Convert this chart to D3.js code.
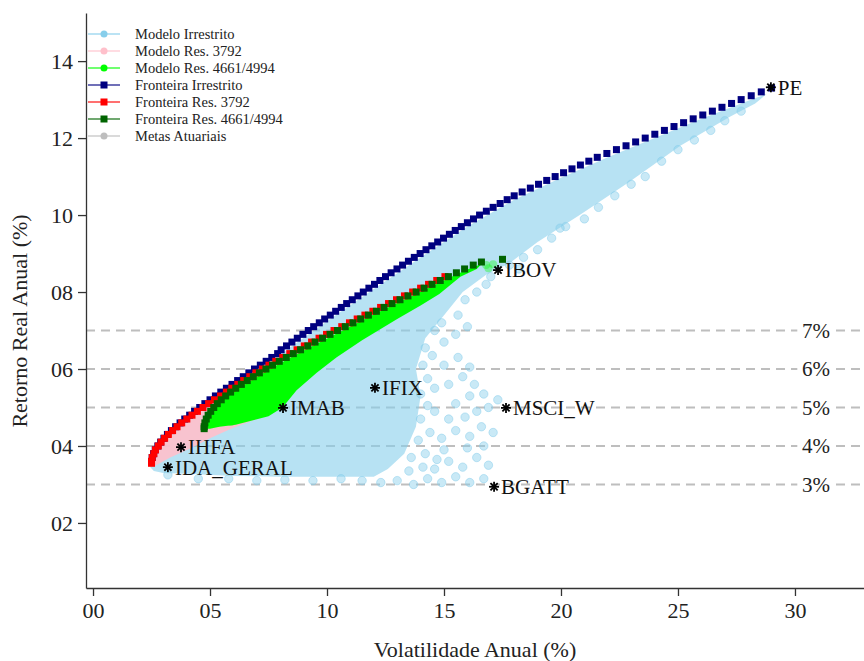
<!DOCTYPE html>
<html>
<head>
<meta charset="utf-8">
<script src="https://cdn.jsdelivr.net/npm/d3@7"></script>
<style>
    body { margin: 0; background: #fff; }
    svg { display: block; font-family: "Liberation Serif", "Times New Roman", serif; }
</style>
</head>
<body>
<svg id="chart" width="864" height="661"></svg>
<script>
// ---- data (vol %, return %) ----
let xTicks = [0, 5, 10, 15, 20, 25, 30];
let yTicks = [2, 4, 6, 8, 10, 12, 14];
let metas = [3, 4, 5, 6, 7];

let assets = [
    { name: 'IDA_GERAL', vol: 3.2, ret: 3.45 },
    { name: 'IHFA', vol: 3.76, ret: 3.97 },
    { name: 'IMAB', vol: 8.12, ret: 4.99 },
    { name: 'IFIX', vol: 12.05, ret: 5.51 },
    { name: 'MSCI_W', vol: 17.65, ret: 4.99 },
    { name: 'BGATT', vol: 17.14, ret: 2.94 },
    { name: 'IBOV', vol: 17.31, ret: 8.57 },
    { name: 'PE', vol: 28.97, ret: 13.32 }
];

let fronteiraIrrestrito = [
    [2.50,3.6],[2.53,3.7],[2.59,3.8],[2.66,3.9],[2.77,4.0],[2.89,4.1],[3.03,4.2],[3.18,4.3],[3.35,4.4],[3.53,4.5],
    [3.72,4.6],[3.92,4.7],[4.13,4.8],[4.34,4.9],[4.56,5.0],[4.78,5.1],[5.00,5.2],[5.23,5.3],[5.46,5.4],[5.70,5.5],
    [5.94,5.6],[6.18,5.7],[6.42,5.8],[6.66,5.9],[6.90,6.0],[7.15,6.1],[7.40,6.2],[7.64,6.3],[7.89,6.4],[8.04,6.5],
    [8.27,6.6],[8.50,6.7],[8.73,6.8],[8.97,6.9],[9.20,7.0],[9.43,7.1],[9.67,7.2],[9.90,7.3],[10.14,7.4],[10.37,7.5],
    [10.61,7.6],[10.84,7.7],[11.08,7.8],[11.32,7.9],[11.55,8.0],[11.79,8.1],[12.03,8.2],[12.26,8.3],[12.50,8.4],[12.74,8.5],
    [12.99,8.6],[13.23,8.7],[13.48,8.8],[13.73,8.9],[13.98,9.0],[14.23,9.1],[14.48,9.2],[14.73,9.3],[14.98,9.4],[15.23,9.5],
    [15.48,9.6],[15.74,9.7],[16.00,9.8],[16.26,9.9],[16.52,10.0],[16.81,10.1],[17.10,10.2],[17.40,10.3],[17.70,10.4],[18.00,10.5],
    [18.34,10.6],[18.69,10.7],[19.04,10.8],[19.39,10.9],[19.75,11.0],[20.11,11.1],[20.47,11.2],[20.83,11.3],[21.19,11.4],[21.55,11.5],
    [21.96,11.6],[22.37,11.7],[22.78,11.8],[23.19,11.9],[23.60,12.0],[24.01,12.1],[24.42,12.2],[24.83,12.3],[25.24,12.4],[25.65,12.5],
    [26.06,12.6],[26.47,12.7],[26.88,12.8],[27.29,12.9],[27.70,13.0],[28.13,13.1],[28.56,13.2],[29.00,13.3]
];

let fronteira3792 = [
    [2.50,3.55],[2.50,3.6],[2.53,3.7],[2.60,3.8],[2.67,3.9],[2.79,4.0],[2.91,4.1],[3.06,4.2],[3.22,4.3],[3.40,4.4],
    [3.59,4.5],[3.79,4.6],[4.01,4.7],[4.23,4.8],[4.46,4.9],[4.70,5.0],[4.94,5.1],[5.19,5.2],[5.45,5.3],[5.70,5.4],
    [5.93,5.5],[6.19,5.6],[6.44,5.7],[6.70,5.8],[6.96,5.9],[7.24,6.0],[7.52,6.1],[7.81,6.2],[8.11,6.3],[8.41,6.4],
    [8.72,6.5],[9.03,6.6],[9.34,6.7],[9.66,6.8],[9.98,6.9],[10.30,7.0],[10.63,7.1],[10.96,7.2],[11.29,7.3],[11.62,7.4],
    [11.96,7.5],[12.29,7.6],[12.63,7.7],[12.97,7.8],[13.31,7.9],[13.66,8.0],[14.00,8.1],[14.34,8.2],[14.69,8.3],[15.04,8.4]
];

let fronteira4661 = [
    [4.75,4.45],[4.75,4.5],[4.78,4.6],[4.84,4.7],[4.92,4.8],[5.03,4.9],[5.16,5.0],[5.31,5.1],[5.48,5.2],[5.67,5.3],
    [5.88,5.4],[6.10,5.5],[6.34,5.6],[6.59,5.7],[6.85,5.8],[7.11,5.9],[7.39,6.0],[7.67,6.1],[7.96,6.2],[8.26,6.3],
    [8.56,6.4],[8.87,6.5],[9.18,6.6],[9.49,6.7],[9.81,6.8],[10.13,6.9],[10.45,7.0],[10.78,7.1],[11.11,7.2],[11.44,7.3],
    [11.77,7.4],[12.11,7.5],[12.44,7.6],[12.78,7.7],[13.12,7.8],[13.46,7.9],[13.81,8.0],[14.15,8.1],[14.49,8.2],[14.84,8.3],
    [15.19,8.4],[15.53,8.5],[15.88,8.6],[16.25,8.7],[16.60,8.78],[17.50,8.85]
];

// dense part of the unrestricted cloud, traced as an outline
let modeloIrrestritoArea = [
    [2.45,3.45],[2.5,3.7],[2.7,4.0],[3.2,4.4],[4.0,4.8],[5.0,5.1],[6.5,5.73],[8.0,6.38],[10.0,7.24],[12.0,8.08],
    [14.0,8.9],[16.0,9.7],[18.0,10.4],[20.0,10.97],[22.0,11.5],[24.0,12.0],[26.0,12.5],[28.0,12.97],[28.8,13.15],
    [28.3,12.9],[27.2,12.55],[25.1,11.8],[22.9,10.85],[20.8,10.0],[19.0,9.3],[17.8,8.75],[16.8,8.45],[15.8,8.0],
    [15.0,7.4],[14.2,6.8],[13.8,6.0],[14.0,5.3],[13.8,4.5],[13.3,3.8],[12.6,3.4],[12.0,3.2],[10.5,3.2],[8.0,3.2],
    [6.0,3.22],[4.0,3.28],[3.0,3.3],[2.6,3.35]
];

// sparse single portfolios around the cloud edge
let modeloIrrestritoPontos = [
    [12.3,3.05],[13.0,3.1],[13.7,3.0],[14.3,3.15],[14.9,3.05],[15.5,3.2],[16.1,3.05],[16.7,3.15],
    [3.2,3.25],[4.5,3.15],[5.8,3.15],[7.0,3.1],[8.2,3.12],[9.4,3.1],[10.6,3.15],[11.5,3.1],
    [13.5,3.35],[14.1,3.45],[13.6,3.7],[14.2,3.8],[14.7,3.65],[13.9,4.15],[14.4,4.35],
    [14.0,4.7],[14.6,4.9],[14.3,5.05],[14.0,5.35],[14.6,5.5],[14.3,5.75],
    [14.1,6.1],[14.5,6.35],[14.2,6.55],[14.6,7.0],
    [14.6,3.4],[15.2,3.6],[15.8,3.45],[16.4,3.7],[16.9,3.5],[15.0,3.9],[16.0,3.95],[16.7,4.0],
    [14.9,4.2],[15.5,4.4],[16.1,4.25],[16.6,4.5],[17.1,4.35],[15.2,4.7],[15.9,4.75],
    [16.4,4.9],[16.9,5.0],[17.3,5.2],[15.5,5.1],[16.1,5.3],[16.7,5.35],
    [15.2,5.6],[15.8,5.8],[16.3,5.6],[15.0,6.1],[15.6,6.3],[16.1,6.05],
    [15.0,6.7],[15.5,6.9],[14.9,7.2],[15.6,7.4],[16.0,7.1],
    [15.9,7.8],[16.4,8.0],[16.8,8.2],
    [17.0,8.4],[17.8,8.7],[18.4,8.9],[19.0,9.1],[19.6,9.4],[20.2,9.7],[21.0,9.9],[21.6,10.2],[22.3,10.5],
    [23.0,10.8],[23.6,11.0],[24.3,11.4],[25.0,11.7],[25.7,11.95],[26.4,12.2],[27.0,12.45],[27.7,12.7],[18.2,8.6],[19.96,9.66]
];

let modelo3792Area = [
    [2.5,3.5],[2.55,3.75],[2.8,4.05],[3.3,4.4],[4.0,4.75],[4.8,5.05],[5.5,5.3],[7.0,5.9],
    [7.0,4.7],[5.9,4.45],[5.0,4.2],[4.2,3.95],[3.3,3.7],[2.7,3.5]
];

let modelo4661Area = [
    [4.75,4.45],[4.78,4.7],[4.95,4.9],[5.3,5.1],[6.1,5.45],[7.4,5.95],[8.9,6.45],[10.5,6.95],[12.1,7.45],
    [13.8,7.95],[15.5,8.45],[16.25,8.65],[16.6,8.72],
    [16.4,8.6],[15.7,8.4],[14.8,7.95],[14.0,7.65],[13.0,7.3],[11.5,6.75],[10.4,6.3],[9.56,5.9],[8.7,5.45],
    [8.1,5.0],[7.5,4.77],[6.1,4.55],[5.4,4.5],[5.0,4.45]
];

let modelo4661Pontos = [
    [5.3,4.6],[5.6,4.7],[5.9,4.62],[16.8,8.7],[17.1,8.72],[16.9,8.62]
];

let legendItems = [
    { label: 'Modelo Irrestrito', color: '#87ceeb', shape: 'circle' },
    { label: 'Modelo Res. 3792', color: '#ffc0cb', shape: 'circle' },
    { label: 'Modelo Res. 4661/4994', color: '#00ff00', shape: 'circle' },
    { label: 'Fronteira Irrestrito', color: '#000080', shape: 'square' },
    { label: 'Fronteira Res. 3792', color: '#ff0000', shape: 'square' },
    { label: 'Fronteira Res. 4661/4994', color: '#006400', shape: 'square' },
    { label: 'Metas Atuariais', color: '#bebebe', shape: 'circle' }
];

// ---- drawing ----
let svg = d3.select('#chart');

let x = d3.scaleLinear().domain([-0.3, 32.95]).range([86, 864]);
let y = d3.scaleLinear().domain([0.31, 15.25]).range([588, 13]);

let areaLine = d3.line()
    .x(d => x(d[0]))
    .y(d => y(d[1]))
    .curve(d3.curveLinearClosed);

function drawAxes() {
    let xAxis = svg.append('g')
        .attr('transform', 'translate(0,' + y.range()[0] + ')')
        .call(d3.axisBottom(x).tickValues(xTicks).tickFormat(d3.format('02d')).tickSize(8).tickSizeOuter(0).tickPadding(6));

    let yAxis = svg.append('g')
        .attr('transform', 'translate(' + x.range()[0] + ',0)')
        .call(d3.axisLeft(y).tickValues(yTicks).tickFormat(d3.format('02d')).tickSize(8).tickSizeOuter(0).tickPadding(5));

    [xAxis, yAxis].forEach(a => {
        a.selectAll('path, line').attr('stroke', '#333').attr('stroke-width', 1.3);
        a.selectAll('text')
            .attr('fill', '#222')
            .style('font-size', '22px')
            .style('font-family', '"Liberation Serif", serif');
    });

    svg.append('text')
        .attr('x', (x.range()[0] + x.range()[1]) / 2)
        .attr('y', 657)
        .attr('text-anchor', 'middle')
        .attr('fill', '#222')
        .style('font-size', '22px')
        .text('Volatilidade Anual (%)');

    svg.append('text')
        .attr('transform', 'translate(27,321) rotate(-90)')
        .attr('text-anchor', 'middle')
        .attr('fill', '#222')
        .style('font-size', '22px')
        .text('Retorno Real Anual (%)');
}

function drawMetas() {
    svg.append('g')
        .classed('metas', true)
        .selectAll('line')
        .data(metas)
        .join('line')
        .attr('x1', x.range()[0])
        .attr('x2', x.range()[1])
        .attr('y1', d => y(d))
        .attr('y2', d => y(d))
        .attr('stroke', '#bebebe')
        .attr('stroke-width', 2)
        .attr('stroke-dasharray', '9,6');
}

function drawMetasLabels() {
    let g = svg.append('g').classed('metas-labels', true);

    g.selectAll('rect')
        .data(metas)
        .join('rect')
        .attr('x', x(30.1))
        .attr('y', d => y(d) - 9)
        .attr('width', 38)
        .attr('height', 18)
        .attr('fill', '#fff');

    g.selectAll('text')
        .data(metas)
        .join('text')
        .attr('x', x(30.3))
        .attr('y', d => y(d))
        .attr('dy', '0.35em')
        .attr('fill', '#222')
        .style('font-size', '21px')
        .text(d => d + '%');
}

function drawClouds() {
    svg.append('path')
        .datum(modeloIrrestritoArea)
        .attr('d', areaLine)
        .attr('fill', '#87ceeb')
        .attr('fill-opacity', 0.6);

    svg.append('g')
        .selectAll('circle')
        .data(modeloIrrestritoPontos)
        .join('circle')
        .attr('cx', d => x(d[0]))
        .attr('cy', d => y(d[1]))
        .attr('r', 4.2)
        .attr('fill', '#87ceeb')
        .attr('fill-opacity', 0.45)
        .attr('stroke', '#87ceeb')
        .attr('stroke-opacity', 0.5);

    svg.append('path')
        .datum(modelo3792Area)
        .attr('d', areaLine)
        .attr('fill', '#ffc0cb')
        .attr('fill-opacity', 0.9);

    svg.append('path')
        .datum(modelo4661Area)
        .attr('d', areaLine)
        .attr('fill', '#00ff00');

    svg.append('g')
        .selectAll('circle')
        .data(modelo4661Pontos)
        .join('circle')
        .attr('cx', d => x(d[0]))
        .attr('cy', d => y(d[1]))
        .attr('r', 4)
        .attr('fill', '#00ff00')
        .attr('fill-opacity', 0.35);
}

function drawFrontier(points, color) {
    svg.append('g')
        .selectAll('rect')
        .data(points)
        .join('rect')
        .attr('x', d => x(d[0]) - 3.5)
        .attr('y', d => y(d[1]) - 3.5)
        .attr('width', 7)
        .attr('height', 7)
        .attr('fill', color);
}

function drawAssets() {
    let g = svg.append('g')
        .selectAll('g')
        .data(assets)
        .join('g')
        .attr('transform', d => 'translate(' + x(d.vol) + ',' + y(d.ret) + ')');

    let arms = [[-5, 0, 5, 0], [0, -5, 0, 5], [-3.6, -3.6, 3.6, 3.6], [-3.6, 3.6, 3.6, -3.6]];
    arms.forEach(a => {
        g.append('line')
            .attr('x1', a[0]).attr('y1', a[1])
            .attr('x2', a[2]).attr('y2', a[3])
            .attr('stroke', '#000')
            .attr('stroke-width', 1.8);
    });

    g.append('text')
        .attr('x', 7)
        .attr('dy', '0.35em')
        .attr('fill', '#111')
        .style('font-size', '21px')
        .text(d => d.name);
}

function drawLegend() {
    let rows = svg.append('g')
        .selectAll('g')
        .data(legendItems)
        .join('g')
        .attr('transform', (d, i) => 'translate(88,' + (34 + i * 17) + ')');

    rows.append('line')
        .attr('x1', 0)
        .attr('x2', 32)
        .attr('stroke', d => d.color)
        .attr('stroke-opacity', 0.75)
        .attr('stroke-width', 1.5);

    rows.filter(d => d.shape === 'circle')
        .append('circle')
        .attr('cx', 16)
        .attr('r', 3.5)
        .attr('fill', d => d.color);

    rows.filter(d => d.shape === 'square')
        .append('rect')
        .attr('x', 12.5)
        .attr('y', -3.5)
        .attr('width', 7)
        .attr('height', 7)
        .attr('fill', d => d.color);

    rows.append('text')
        .attr('x', 47)
        .attr('dy', '0.35em')
        .attr('fill', '#222')
        .style('font-size', '14.5px')
        .text(d => d.label);
}

drawMetas();
drawClouds();
drawFrontier(fronteiraIrrestrito, '#000080');
drawFrontier(fronteira3792, '#ff0000');
drawFrontier(fronteira4661, '#006400');
drawMetasLabels();
drawAssets();
drawAxes();
drawLegend();
</script>
</body>
</html>
